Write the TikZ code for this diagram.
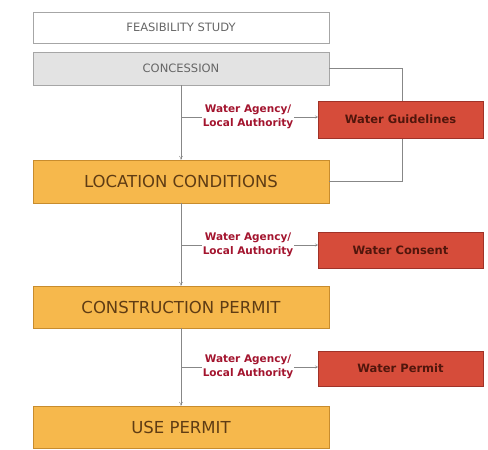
\documentclass[tikz,border=0pt]{standalone}
\usepackage{fontspec}
\setmainfont{DejaVu Sans}
\usepackage{tikz}
\usetikzlibrary{arrows.meta}
\definecolor{stagefill}{RGB}{246,184,76}
\definecolor{stageline}{RGB}{200,140,45}
\definecolor{stagetext}{RGB}{95,60,20}
\definecolor{waterfill}{RGB}{214,76,58}
\definecolor{waterline}{RGB}{160,50,40}
\definecolor{watertext}{RGB}{80,22,12}
\definecolor{agencytext}{RGB}{163,20,46}
\definecolor{linkgray}{RGB}{135,135,135}

\begin{document}
\begin{tikzpicture}[x=1pt, y=-1pt,
  stage/.style={draw=stageline, fill=stagefill, minimum width=296pt,
    minimum height=43pt, inner sep=0pt, text=stagetext,
    font=\fontsize{16.5}{20}\selectfont},
  prestage/.style={draw=gray!70, minimum width=296pt, inner sep=0pt,
    text=gray!80!black, font=\fontsize{11.5}{14}\selectfont},
  waterbox/.style={draw=waterline, fill=waterfill, minimum width=165pt,
    inner sep=0pt, text=watertext, font=\bfseries\fontsize{11.5}{14}\selectfont},
  agency/.style={align=center, inner sep=1pt, text=agencytext,
    font=\bfseries\fontsize{10.5}{13.5}\selectfont},
  link/.style={draw=linkgray, thin}]
\useasboundingbox (0,0) rectangle (488,450);
% the stages
\node [prestage, minimum height=31pt] (feas) at (181, 27.5) {FEASIBILITY STUDY};
\node [prestage, fill=gray!22, minimum height=33pt] (conc) at (181, 68.5) {CONCESSION};
\node [stage] (loc) at (181, 181.5) {LOCATION CONDITIONS};
\node [stage, minimum height=42pt] (cons) at (181, 307) {CONSTRUCTION PERMIT};
\node [stage, minimum height=42pt] (use) at (181, 427) {USE PERMIT};
% loop back from the concession
\draw [link] (conc.east) -- ++(73, 0) |- (loc.east);
% the flow
\draw [link, -{>[length=4, width=4]}] (conc) -- (loc);
\draw [link, -{>[length=4, width=4]}] (loc) -- (cons);
\draw [link, -{>[length=4, width=4]}] (cons) -- (use);
% water documents
\node [waterbox, minimum height=37pt] (guide) at (400.5, 119.5) {Water Guidelines};
\node [waterbox, minimum height=36pt] (consent) at (400.5, 250) {Water Consent};
\node [waterbox, minimum height=35pt] (wpermit) at (400.5, 368.5) {Water Permit};
% the authorities
\node [agency] (ag1) at (248, 117) {Water Agency/\\Local Authority};
\node [agency] (ag2) at (248, 245) {Water Agency/\\Local Authority};
\node [agency] (ag3) at (248, 367) {Water Agency/\\Local Authority};
\draw [link] (ag1.west) -- (ag1.west -| conc.south);
\draw [link] (ag2.west) -- (ag2.west -| loc.south);
\draw [link] (ag3.west) -- (ag3.west -| cons.south);
\draw [link, -{>[length=3, width=3]}] (ag1.east) -- (ag1.east -| guide.west);
\draw [link, -{>[length=3, width=3]}] (ag2.east) -- (ag2.east -| consent.west);
\draw [link, -{>[length=3, width=3]}] (ag3.east) -- (ag3.east -| wpermit.west);
\end{tikzpicture}
\end{document}
